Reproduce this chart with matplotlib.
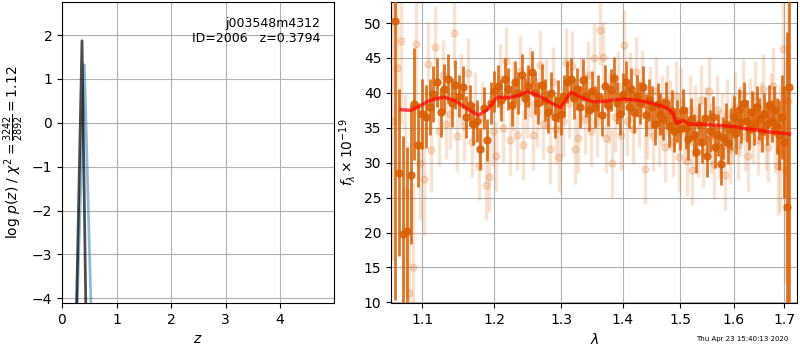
import matplotlib
matplotlib.use('Agg')
import matplotlib.pyplot as plt
from matplotlib.ticker import FixedLocator, FixedFormatter, NullLocator

# ---------------- left panel: p(z) ----------------
z_fit = [0.2615, 0.367, 0.4405]
logp_fit = [-4.5, 1.87, -4.5]
z_prior = [0.27, 0.41, 0.539]
logp_prior = [-4.5, 1.32, -4.5]

left_yticks = [-4, -3, -2, -1, 0, 1, 2]
left_xticks = [0, 1, 2, 3, 4]
label_text = "j003548m4312\nID=2006   z=0.3794"

# ---------------- right panel: spectrum ----------------
wave_a = [1.065, 1.070, 1.075, 1.080, 1.085, 1.090, 1.095, 1.100, 1.105, 1.110,
          1.115, 1.120, 1.125, 1.130, 1.135, 1.140, 1.145, 1.150, 1.155, 1.160,
          1.165, 1.170, 1.175, 1.180, 1.185, 1.190, 1.195, 1.200, 1.205, 1.210,
          1.215, 1.220, 1.225, 1.230, 1.235, 1.240, 1.245, 1.250, 1.255, 1.260,
          1.265, 1.270, 1.275, 1.280, 1.285, 1.290, 1.295, 1.300, 1.305, 1.310,
          1.315, 1.320, 1.325, 1.330, 1.335, 1.340, 1.345, 1.350, 1.355, 1.360,
          1.365, 1.370, 1.375, 1.380, 1.385, 1.390, 1.395, 1.400, 1.405, 1.410,
          1.415, 1.420, 1.425, 1.430, 1.435, 1.440, 1.445, 1.450, 1.455, 1.460,
          1.465, 1.470, 1.475, 1.480, 1.485, 1.490, 1.495, 1.500, 1.505, 1.510,
          1.515, 1.520, 1.525, 1.530, 1.535, 1.540, 1.545, 1.550, 1.555, 1.560,
          1.565, 1.570, 1.575, 1.580, 1.585, 1.590, 1.595, 1.600, 1.605, 1.610,
          1.615, 1.620, 1.625, 1.630, 1.635, 1.640, 1.645, 1.650, 1.655, 1.660,
          1.665, 1.670, 1.675, 1.680, 1.685, 1.690, 1.695, 1.700, 1.705, 1.710]
flux_a = [50.3, 28.6, 19.8, 20.2, 28.3, 38.4, 32.5, 37.0, 36.6, 38.0,
          39.8, 41.5, 37.2, 40.6, 42.0, 38.6, 41.2, 39.5, 40.8, 36.5,
          38.2, 35.6, 36.0, 32.0, 37.8, 33.2, 38.5, 40.2, 41.0, 39.0,
          42.0, 40.5, 38.2, 41.6, 40.0, 42.5, 39.2, 41.0, 43.0, 40.0,
          38.6, 41.2, 39.0, 37.2, 40.0, 36.5, 38.8, 37.0, 39.6, 41.5,
          42.0, 39.2, 40.6, 38.0, 41.8, 39.5, 37.5, 40.2, 38.0, 39.5,
          36.8, 41.0, 38.2, 40.4, 42.2, 38.6, 37.0, 39.8, 41.5, 38.0,
          40.6, 37.2, 39.5, 38.5, 40.8, 36.8, 39.0, 38.0, 35.6, 38.4,
          37.0, 36.2, 38.6, 35.2, 37.4, 34.5, 36.0, 34.8, 37.6, 35.0,
          33.4, 36.2, 34.0, 31.5, 35.5, 33.0, 36.4, 31.0, 34.6, 36.5,
          32.2, 34.0, 29.8, 33.5, 35.6, 32.8, 34.8, 36.6, 34.2, 37.5,
          35.8, 38.6, 36.0, 34.8, 37.2, 35.5, 38.0, 36.2, 34.6, 37.0,
          35.5, 38.2, 36.0, 37.5, 35.2, 34.0, 36.5, 33.0, 23.7, 40.9]
err_a = [40.0, 12.0, 14.0, 12.0, 10.0, 8.0, 6.0, 5.0, 4.5, 4.0,
         4.0, 3.5, 3.5, 3.5, 3.5, 3.5, 3.5, 3.0, 3.0, 3.0,
         3.0, 3.0, 3.0, 3.0, 3.0, 3.0, 3.0, 3.0, 3.0, 3.0,
         3.0, 3.0, 3.0, 3.0, 3.0, 3.0, 3.0, 3.0, 3.0, 3.0,
         3.0, 3.0, 3.0, 3.0, 3.0, 3.0, 3.0, 3.0, 3.0, 3.0,
         3.0, 3.0, 3.0, 3.0, 3.0, 3.0, 3.0, 3.0, 3.0, 3.0,
         3.0, 3.0, 3.0, 3.0, 3.0, 3.0, 3.0, 3.0, 3.0, 3.0,
         3.0, 3.0, 3.0, 3.0, 3.0, 3.0, 3.0, 3.0, 3.0, 3.0,
         3.0, 3.0, 3.0, 3.0, 3.0, 3.0, 3.0, 3.0, 3.0, 3.0,
         3.0, 3.0, 3.0, 3.0, 3.0, 3.0, 3.0, 3.0, 3.0, 3.0,
         3.0, 3.0, 3.0, 3.0, 3.0, 3.0, 3.0, 3.0, 3.0, 3.0,
         3.0, 3.0, 3.0, 3.0, 3.0, 3.0, 3.0, 3.0, 3.0, 3.0,
         3.0, 3.0, 3.0, 3.5, 4.0, 5.0, 6.0, 8.0, 25.0, 40.0]

wave_b = [1.0625, 1.0675, 1.0725, 1.0775, 1.0825, 1.0875, 1.0925, 1.0975, 1.1025, 1.1075,
          1.1125, 1.1175, 1.1225, 1.1275, 1.1325, 1.1375, 1.1425, 1.1475, 1.1525, 1.1575,
          1.1625, 1.1675, 1.1725, 1.1775, 1.1825, 1.1875, 1.1925, 1.1975, 1.2025, 1.2075,
          1.2125, 1.2175, 1.2225, 1.2275, 1.2325, 1.2375, 1.2425, 1.2475, 1.2525, 1.2575,
          1.2625, 1.2675, 1.2725, 1.2775, 1.2825, 1.2875, 1.2925, 1.2975, 1.3025, 1.3075,
          1.3125, 1.3175, 1.3225, 1.3275, 1.3325, 1.3375, 1.3425, 1.3475, 1.3525, 1.3575,
          1.3625, 1.3675, 1.3725, 1.3775, 1.3825, 1.3875, 1.3925, 1.3975, 1.4025, 1.4075,
          1.4125, 1.4175, 1.4225, 1.4275, 1.4325, 1.4375, 1.4425, 1.4475, 1.4525, 1.4575,
          1.4625, 1.4675, 1.4725, 1.4775, 1.4825, 1.4875, 1.4925, 1.4975, 1.5025, 1.5075,
          1.5125, 1.5175, 1.5225, 1.5275, 1.5325, 1.5375, 1.5425, 1.5475, 1.5525, 1.5575,
          1.5625, 1.5675, 1.5725, 1.5775, 1.5825, 1.5875, 1.5925, 1.5975, 1.6025, 1.6075,
          1.6125, 1.6175, 1.6225, 1.6275, 1.6325, 1.6375, 1.6425, 1.6475, 1.6525, 1.6575,
          1.6625, 1.6675, 1.6725, 1.6775, 1.6825, 1.6875, 1.6925, 1.6975, 1.7025, 1.7075]
flux_b = [36.0, 43.5, 47.5, 25.8, 11.3, 15.1, 47.0, 29.9, 27.7, 44.1,
          31.8, 46.5, 34.5, 42.6, 35.5, 37.0, 48.6, 33.8, 40.5, 35.2,
          42.8, 33.0, 38.0, 29.6, 36.5, 26.8, 28.0, 34.5, 31.0, 42.0,
          35.0, 44.5, 33.2, 39.5, 34.0, 43.2, 32.5, 38.6, 41.5, 34.0,
          37.2, 44.0, 35.5, 39.8, 32.0, 41.6, 34.8, 30.8, 36.0, 44.3,
          38.5, 43.8, 32.0, 33.5, 40.2, 36.2, 42.5, 34.5, 45.0, 35.8,
          49.0, 45.2, 33.5, 37.8, 29.9, 36.5, 41.0, 34.0, 46.8, 36.0,
          40.8, 34.8, 43.0, 37.2, 41.2, 29.1, 35.5, 38.8, 33.8, 40.2,
          34.6, 37.5, 32.2, 39.0, 36.8, 33.0, 39.5, 30.8, 38.5, 35.0,
          30.3, 37.5, 28.9, 36.2, 33.0, 39.0, 31.5, 35.8, 40.2, 33.6,
          29.8, 37.5, 32.5, 35.0, 28.2, 37.0, 32.0, 34.8, 38.0, 32.5,
          36.0, 39.8, 33.8, 31.0, 37.2, 35.0, 39.5, 33.2, 36.6, 40.5,
          34.0, 32.2, 37.8, 41.0, 34.5, 29.5, 32.0, 46.3, 28.9, 38.9]
err_b = [20.0, 15.0, 12.0, 14.0, 15.0, 12.0, 10.0, 8.0, 8.0, 6.0,
         6.0, 6.0, 5.0, 5.0, 5.0, 5.0, 5.0, 5.0, 5.0, 5.0,
         5.0, 5.0, 5.0, 5.0, 5.0, 5.0, 5.0, 5.0, 5.0, 5.0,
         5.0, 5.0, 5.0, 5.0, 5.0, 5.0, 5.0, 5.0, 5.0, 5.0,
         5.0, 5.0, 5.0, 5.0, 5.0, 5.0, 5.0, 5.0, 5.0, 5.0,
         5.0, 5.0, 5.0, 5.0, 5.0, 5.0, 5.0, 5.0, 5.0, 5.0,
         5.0, 5.0, 5.0, 5.0, 5.0, 5.0, 5.0, 5.0, 5.0, 5.0,
         5.0, 5.0, 5.0, 5.0, 5.0, 5.0, 5.0, 5.0, 5.0, 5.0,
         5.0, 5.0, 5.0, 5.0, 5.0, 5.0, 5.0, 5.0, 5.0, 5.0,
         5.0, 5.0, 5.0, 5.0, 5.0, 5.0, 5.0, 5.0, 5.0, 5.0,
         5.0, 5.0, 5.0, 5.0, 5.0, 5.0, 5.0, 5.0, 5.0, 5.0,
         5.0, 5.0, 5.0, 5.0, 5.0, 5.0, 5.0, 5.0, 5.0, 5.0,
         5.0, 5.0, 5.0, 5.5, 6.0, 7.0, 9.0, 12.0, 16.0, 20.0]

wave_model = [1.073, 1.085, 1.095, 1.11, 1.129, 1.145, 1.16, 1.177, 1.19, 1.204,
              1.22, 1.235, 1.249, 1.265, 1.28, 1.299, 1.316, 1.333, 1.352, 1.37,
              1.385, 1.402, 1.42, 1.442, 1.46, 1.477, 1.488, 1.494, 1.505, 1.517,
              1.54, 1.56, 1.578, 1.60, 1.621, 1.645, 1.67, 1.69, 1.711]
flux_model = [37.6, 37.5, 38.0, 38.9, 39.4, 38.9, 37.8, 36.8, 37.6, 39.4,
              39.3, 39.6, 40.2, 39.6, 38.8, 37.9, 40.1, 39.3, 38.7, 38.8,
              39.0, 39.1, 39.0, 38.7, 38.3, 37.8, 37.0, 35.6, 36.1, 35.5,
              35.5, 35.4, 35.3, 35.2, 34.9, 34.7, 34.4, 34.3, 34.1]

right_xticks = [1.1, 1.2, 1.3, 1.4, 1.5, 1.6, 1.7]
right_yticks = [10, 15, 20, 25, 30, 35, 40, 45, 50]
timestamp = "Thu Apr 23 15:40:13 2020"

# ---------------- figure ----------------
fig = plt.figure(figsize=(8, 3.5), dpi=100)
ax1 = fig.add_axes([0.0775, 0.134, 0.34, 0.86])
ax2 = fig.add_axes([0.489, 0.134, 0.5075, 0.86])

ax1.plot(z_prior, logp_prior, color='#1f77b4', alpha=0.5, lw=2)
ax1.plot(z_fit, logp_fit, color='k', alpha=0.7, lw=2)
ax1.set_xlim(0, 4.99)
ax1.set_ylim(-4.11, 2.75)
ax1.set_xticks(left_xticks)
ax1.set_yticks(left_yticks)
ax1.grid(True)
ax1.set_axisbelow(True)
ax1.set_xlabel('$z$')
ax1.set_ylabel(r'log $p(z)$ / $\chi^2=\frac{3242}{2892}=1.12$')
ax1.text(0.95, 0.95, label_text, transform=ax1.transAxes, ha='right', va='top',
         fontsize=9, multialignment='right')

col = '#d95f02'
ax2.errorbar(wave_b, flux_b, yerr=err_b, color=col, alpha=0.18, marker='o', ms=5,
             linestyle='None', elinewidth=2.5, capsize=0, zorder=2)
ax2.errorbar(wave_a, flux_a, yerr=err_a, color=col, alpha=0.85, marker='o', ms=5,
             linestyle='None', elinewidth=2, capsize=0, zorder=3)
ax2.plot(wave_model, flux_model, color='red', alpha=0.7, lw=2.5, zorder=4)

ax2.set_xscale('log')
ax2.set_xlim(1.06, 1.727)
ax2.set_ylim(9.9, 53.0)
ax2.xaxis.set_major_locator(FixedLocator(right_xticks))
ax2.xaxis.set_major_formatter(FixedFormatter(['%.1f' % v for v in right_xticks]))
ax2.xaxis.set_minor_locator(NullLocator())
ax2.set_yticks(right_yticks)
ax2.grid(True)
ax2.set_axisbelow(True)
ax2.set_xlabel(r'$\lambda$')
ax2.set_ylabel(r'$f_\lambda\times10^{-19}$')

fig.text(0.985, 0.031, timestamp, ha='right', va='center', fontsize=5)

fig.savefig('out.png', dpi=100)
